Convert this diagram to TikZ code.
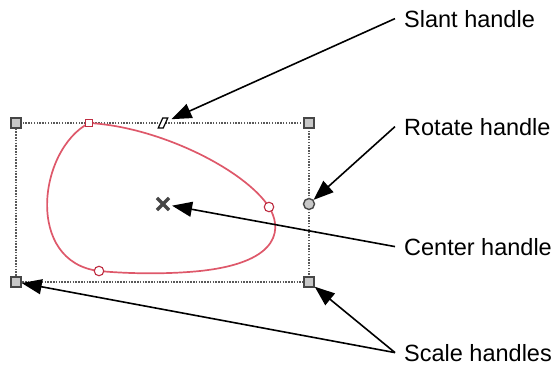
\documentclass[tikz,border=0pt]{standalone}
\usepackage{fontspec}
\setmainfont{Liberation Sans}
\usetikzlibrary{arrows.meta,shapes.geometric,shapes.misc}

\definecolor{curvered}{RGB}{222,88,106}
\definecolor{ptred}{RGB}{190,45,65}
\definecolor{hgray}{RGB}{70,70,70}
\definecolor{hfill}{RGB}{200,200,200}

\begin{document}
\begin{tikzpicture}[
  x=1pt, y=-1pt,
  every node/.style={font=\fontsize{23.5}{28}\selectfont},
  frame/.style={draw=hgray!90, line width=1.7pt, dash pattern=on 1.5pt off 1.3pt},
  sqh/.style={rectangle, draw=hgray, fill=hfill, line width=1.4pt,
              minimum size=10pt, inner sep=0pt},
  circh/.style={circle, draw=hgray, fill=hfill, line width=1.4pt,
                minimum size=11pt, inner sep=0pt},
  slnt/.style={rectangle, xslant=0.45, draw=black, line width=1.2pt, fill=white,
               minimum height=10pt, minimum width=5pt, inner sep=0pt},
  ctrh/.style={cross out, draw=hgray, line width=3.2pt,
               minimum size=9pt, inner sep=0pt},
  ptsq/.style={rectangle, draw=ptred, fill=white, line width=1.1pt,
               minimum size=7.5pt, inner sep=0pt},
  ptci/.style={circle, draw=ptred, fill=white, line width=1.1pt,
               minimum size=9.5pt, inner sep=0pt},
  curve/.style={draw=curvered, line width=1.7pt},
  lbl/.style={anchor=base west, inner xsep=9pt, inner ysep=0pt},
  arr/.style={-{Triangle[length=20pt,width=15pt]}, line width=1.6pt, black},
]
\useasboundingbox (0,0) rectangle (556,367);

%% ---- handle positions ----
\coordinate (tlc) at (16,123);
\coordinate (brc) at (309,282);

%% ---- bounding frame ----
\draw[frame] (tlc) rectangle (brc);

%% ---- red curve ----
\coordinate (ptopc) at (89,123);
\coordinate (prightc) at (269,207);
\coordinate (pbotc) at (99,271);
\draw[curve] (ptopc) .. controls (160,127) and (245,170) .. (prightc)
  .. controls (281,226) and (284,262) .. (200,271)
  .. controls (160,275) and (120,273) .. (pbotc)
  .. controls (25,262) and (38,150) .. (ptopc);

%% ---- curve points ----
\node[ptsq] (ptop)   at (ptopc)   {};
\node[ptci] (pright) at (prightc) {};
\node[ptci] (pbot)   at (pbotc)   {};

%% ---- handles ----
\node[sqh]   (tl)    at (tlc)      {};
\node[sqh]   (tr)    at (309,123)  {};
\node[sqh]   (bl)    at (16,282)   {};
\node[sqh]   (br)    at (brc)      {};
\node[slnt]  (slanth) at (163,123) {};
\node[circh] (roth)  at (309,204)  {};
\node[ctrh]  (ctr)   at (163,204)  {};

%% ---- labels ----
\node[lbl] (slant)  at (395,27)  {Slant handle};
\node[lbl] (rotate) at (395,135) {Rotate handle};
\node[lbl] (center) at (395,255) {Center handle};
\node[lbl] (scale)  at (395,361) {Scale handles};

%% ---- arrows ----
\draw[arr, shorten >=5pt] (slant.west)  -- (slanth);
\draw[arr]                (rotate.west) -- (roth);
\draw[arr, shorten >=3pt] (center.west) -- (ctr);
\draw[arr]                (scale.west)  -- (bl);
\draw[arr]                (scale.west)  -- (br);
\end{tikzpicture}
\end{document}
